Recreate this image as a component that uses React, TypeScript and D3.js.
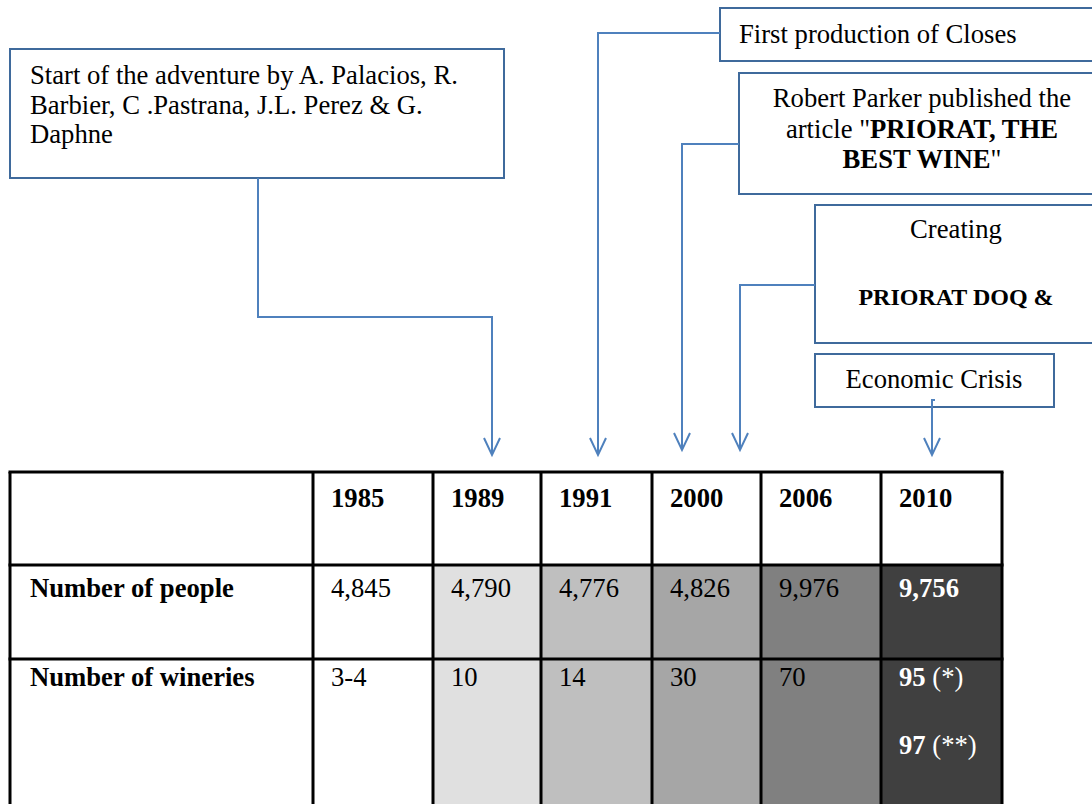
import React from "react";
import * as d3 from "d3";

// table data
const years = ["1985", "1989", "1991", "2000", "2006", "2010"];
const people = ["4,845", "4,790", "4,776", "4,826", "9,976", "9,756"];
const wineries = ["3-4", "10", "14", "30", "70", "95 (*)"];
const wineriesExtra = ["", "", "", "", "", "97 (**)"];
const rowLabels = ["Number of people", "Number of wineries"];

// timeline events: text lines, each line a list of [text, bold] parts
type Part = [string, boolean];
const eventYears = ["1989", "1991", "2000", "2006", "2010"];
const eventLines: Part[][][] = [
  [
    [["Start of the adventure by A. Palacios, R.", false]],
    [["Barbier, C .Pastrana, J.L. Perez & G.", false]],
    [["Daphne", false]],
  ],
  [[["First production of Closes", false]]],
  [
    [["Robert Parker published the", false]],
    [["article \"", false], ["PRIORAT, THE", true]],
    [["BEST WINE", true], ["\"", false]],
  ],
  [[["Creating", false]], [["", false]], [["PRIORAT DOQ &", true]]],
  [[["Economic Crisis", false]]],
];

const W = 1092;
const H = 804;
const FONT = "'Liberation Serif', 'Times New Roman', serif";
const FS = 26.67;
const LINE = "#4f81bd";
const BORDER = "#3f6a9c";

// layout of the boxes and where their connectors run
const boxes = [
  { x: 10, y: 49, w: 494, h: 129, tx: 30, ty: 84, anchor: "start", lh: 29.5, small: -1 },
  { x: 720, y: 8, w: 400, h: 53, tx: 739, ty: 43, anchor: "start", lh: 30, small: -1 },
  { x: 739, y: 73, w: 400, h: 121, tx: 922, ty: 107, anchor: "middle", lh: 30.5, small: -1 },
  { x: 815, y: 205, w: 400, h: 138, tx: 956, ty: 238, anchor: "middle", lh: 33.5, small: 2 },
  { x: 815, y: 354, w: 239, h: 53, tx: 934, ty: 388, anchor: "middle", lh: 30, small: -1 },
];
const routes: [number, number][][] = [
  [[258, 178], [258, 317], [492, 317], [492, 455]],
  [[720, 33], [598, 33], [598, 455]],
  [[739, 144], [682, 144], [682, 450]],
  [[815, 285], [740, 285], [740, 450]],
  [[935, 400], [932, 400], [932, 455]],
];

const colEdges = [10, 313, 433, 541, 652, 761, 881, 1002];
const rowEdges = [472, 565, 659, 820];
const fills = ["#ffffff", "#e0e0e0", "#bfbfbf", "#a6a6a6", "#808080", "#404040"];

export default function App() {
  const xLeft = d3.scaleOrdinal<string, number>().domain(years).range(colEdges.slice(1, 7));
  const xRight = d3.scaleOrdinal<string, number>().domain(years).range(colEdges.slice(2));
  const fill = d3.scaleOrdinal<string, string>().domain(years).range(fills);
  const line = d3.line();

  const bodyTop = rowEdges[1];
  const bottom = rowEdges[3];

  return (
    <svg width={W} height={H} style={{ position: "absolute", left: 0, top: 0, background: "#fff" }} fontFamily={FONT}>
      {/* event boxes */}
      {boxes.map((b, i) => (
        <g key={"box" + i}>
          <rect x={b.x} y={b.y} width={b.w} height={b.h} fill="#fff" stroke={BORDER} strokeWidth={2} />
          {eventLines[i].map((parts, j) => (
            <text key={j} x={b.tx} y={b.ty + j * b.lh} fontSize={j === b.small ? 24 : FS} textAnchor={b.anchor} fill="#000">
              {parts.map((p, k) => (
                <tspan key={k} fontWeight={p[1] ? "bold" : "normal"}>{p[0]}</tspan>
              ))}
            </text>
          ))}
        </g>
      ))}

      {/* connectors with open arrow heads */}
      {routes.map((r, i) => {
        const end = r[r.length - 1];
        const head: [number, number][] = [[end[0] - 8, end[1] - 17], end, [end[0] + 8, end[1] - 17]];
        return (
          <g key={"route" + i} fill="none" stroke={LINE} strokeWidth={2}>
            <path d={line(r) || ""} />
            <path d={line(head) || ""} />
          </g>
        );
      })}

      {/* table fills */}
      {years.map((y) => (
        <rect key={"f" + y} x={xLeft(y)} y={bodyTop} width={xRight(y) - xLeft(y)} height={bottom - bodyTop} fill={fill(y)} />
      ))}

      {/* header years */}
      {years.map((y) => (
        <text key={"h" + y} x={xLeft(y) + 18} y={507} fontSize={FS} fontWeight="bold">{y}</text>
      ))}

      {/* row labels */}
      {rowLabels.map((l, i) => (
        <text key={"r" + i} x={30} y={597 + i * 89} fontSize={FS} fontWeight="bold">{l}</text>
      ))}

      {/* values */}
      {years.map((y, i) => {
        const last = i === years.length - 1;
        const col = last ? "#fff" : "#000";
        const wt = last ? "bold" : "normal";
        return (
          <g key={"v" + y} fill={col} fontSize={FS}>
            <text x={xLeft(y) + 18} y={597} fontWeight={wt}>{people[i]}</text>
            <text x={xLeft(y) + 18} y={686}>
              {wineries[i].split(" ").map((s, k) => (
                <tspan key={k} fontWeight={last && k === 0 ? "bold" : "normal"}>{(k ? " " : "") + s}</tspan>
              ))}
            </text>
            {wineriesExtra[i] && (
              <text x={xLeft(y) + 18} y={754}>
                {wineriesExtra[i].split(" ").map((s, k) => (
                  <tspan key={k} fontWeight={k === 0 ? "bold" : "normal"}>{(k ? " " : "") + s}</tspan>
                ))}
              </text>
            )}
          </g>
        );
      })}

      {/* grid lines */}
      <g stroke="#000" strokeWidth={3}>
        {colEdges.map((x, i) => (
          <line key={"c" + i} x1={x} x2={x} y1={rowEdges[0]} y2={bottom} />
        ))}
        {rowEdges.slice(0, 3).map((y, i) => (
          <line key={"rl" + i} x1={colEdges[0] - 1.5} x2={colEdges[7] + 1.5} y1={y} y2={y} />
        ))}
      </g>
    </svg>
  );
}
